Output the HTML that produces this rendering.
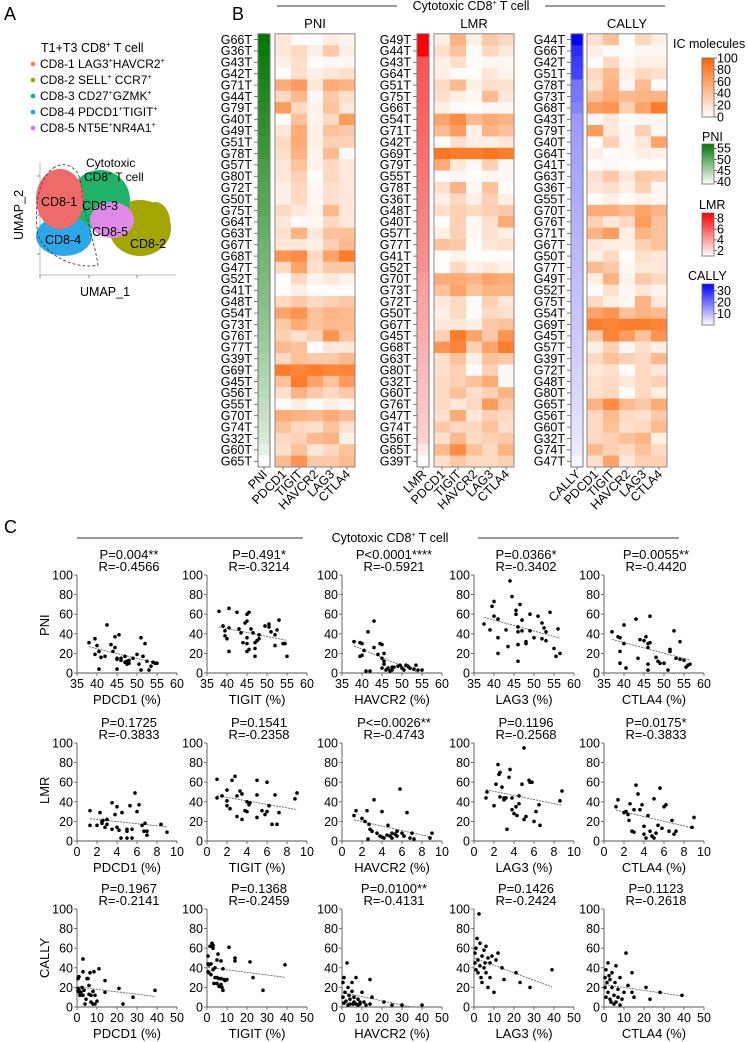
<!DOCTYPE html>
<html><head><meta charset="utf-8">
<style>
html,body{margin:0;padding:0;background:#fff;}
svg{display:block;font-family:"Liberation Sans",Arial,sans-serif;}
</style></head>
<body>
<svg id="fig" width="748" height="1042" viewBox="0 0 748 1042" xmlns="http://www.w3.org/2000/svg">
  <!-- Panel A -->
  <g>
    <text x="4" y="20" font-size="18">A</text>
    <text x="41" y="52" font-size="12.5">T1+T3 CD8<tspan font-size="8" dy="-5">+</tspan><tspan dy="5"> T cell</tspan></text>
    <g font-size="12">
      <circle cx="33" cy="64" r="2.3" fill="#f8766d"/><text x="40" y="68">CD8-1 LAG3<tspan font-size="7" dy="-5">+</tspan><tspan dy="5">HAVCR2</tspan><tspan font-size="7" dy="-5">+</tspan></text>
      <circle cx="33" cy="80" r="2.3" fill="#a3a500"/><text x="40" y="84">CD8-2 SELL<tspan font-size="7" dy="-5">+</tspan><tspan dy="5"> CCR7</tspan><tspan font-size="7" dy="-5">+</tspan></text>
      <circle cx="33" cy="96" r="2.3" fill="#00bf6a"/><text x="40" y="100">CD8-3 CD27<tspan font-size="7" dy="-5">+</tspan><tspan dy="5">GZMK</tspan><tspan font-size="7" dy="-5">+</tspan></text>
      <circle cx="33" cy="112" r="2.3" fill="#00a9f0"/><text x="40" y="116">CD8-4 PDCD1<tspan font-size="7" dy="-5">+</tspan><tspan dy="5">TIGIT</tspan><tspan font-size="7" dy="-5">+</tspan></text>
      <circle cx="33" cy="128" r="2.3" fill="#e76bf3"/><text x="40" y="132">CD8-5 NT5E<tspan font-size="7" dy="-5">+</tspan><tspan dy="5">NR4A1</tspan><tspan font-size="7" dy="-5">+</tspan></text>
    </g>
    <g>
      <line x1="40" y1="162" x2="40" y2="275" stroke="#bbb" stroke-width="1"/>
      <line x1="40" y1="275" x2="176" y2="275" stroke="#bbb" stroke-width="1"/>
      <g stroke="#888"><line x1="37" y1="176" x2="40" y2="176"/><line x1="37" y1="215" x2="40" y2="215"/><line x1="37" y1="254" x2="40" y2="254"/>
      <line x1="40" y1="275" x2="40" y2="278"/><line x1="89" y1="275" x2="89" y2="278"/><line x1="137" y1="275" x2="137" y2="278"/></g>
      <ellipse cx="140" cy="228" rx="31" ry="28" fill="#a3a500"/>
      <ellipse cx="155" cy="222" rx="15" ry="20" fill="#a3a500"/>
      <ellipse cx="100" cy="200" rx="30" ry="30" fill="#1fb36a"/>
      <ellipse cx="112" cy="220" rx="22" ry="18" fill="#e08ae8"/>
      <ellipse cx="64" cy="236" rx="28" ry="20" fill="#2aa8e8"/>
      <ellipse cx="60" cy="199" rx="24" ry="30" fill="#f06a6a"/>
      <path d="M55,167 C40,175 33,205 38,235 C45,255 75,270 98,265 C95,245 90,235 88,220 C80,205 85,180 75,170 C68,163 60,164 55,167 Z" fill="none" stroke="#444" stroke-dasharray="3,2" stroke-width="0.9"/>
      <text x="86" y="167" font-size="12">Cytotoxic</text>
      <text x="84" y="181" font-size="12">CD8<tspan font-size="7" dy="-5">+</tspan><tspan dy="5"> T cell</tspan></text>
      <g font-size="12.5">
      <text x="41" y="206">CD8-1</text><text x="82" y="210">CD8-3</text><text x="45" y="244">CD8-4</text><text x="92" y="236">CD8-5</text><text x="130" y="248">CD8-2</text></g>
      <text x="80" y="296" font-size="12.5">UMAP_1</text>
      <text transform="translate(23,240) rotate(-90)" font-size="12.5">UMAP_2</text>
    </g>
  </g>
  <!-- Panel B header -->
  <text x="232" y="20" font-size="18">B</text>
  <line x1="277" y1="6" x2="397" y2="6" stroke="#333"/>
  <line x1="545" y1="6" x2="665" y2="6" stroke="#333"/>
  <text x="471" y="10" font-size="12.5" text-anchor="middle">Cytotoxic CD8<tspan font-size="7" dy="-5">+</tspan><tspan dy="5"> T cell</tspan></text>
  <text x="315" y="28" font-size="13" text-anchor="middle">PNI</text>
  <text x="474" y="28" font-size="13" text-anchor="middle">LMR</text>
  <text x="627" y="28" font-size="13" text-anchor="middle">CALLY</text>
  <g id="heat"></g>
  <!-- Legends -->
  <g>
    <text x="673" y="48" font-size="12.5">IC molecules</text>
    <text x="702" y="141" font-size="12.5">PNI</text>
    <text x="699" y="209" font-size="12.5">LMR</text>
    <text x="688" y="280" font-size="12.5">CALLY</text>
    <g id="legendbars"></g>
  </g>
  <!-- Panel C -->
  <text x="4" y="533" font-size="18">C</text>
  <line x1="77" y1="538" x2="303" y2="538" stroke="#333"/>
  <line x1="478" y1="538" x2="679" y2="538" stroke="#333"/>
  <text x="390" y="542" font-size="12.5" text-anchor="middle">Cytotoxic CD8<tspan font-size="7" dy="-5">+</tspan><tspan dy="5"> T cell</tspan></text>
  <g id="scat"></g>
</svg>
<script>
// ---------- Heatmap data ----------
const icColumns = ["PDCD1","TIGIT","HAVCR2","LAG3","CTLA4"];
const pniGenes = ["G66T","G36T","G43T","G42T","G71T","G44T","G79T","G40T","G49T","G51T","G78T","G57T","G80T","G72T","G50T","G75T","G64T","G63T","G67T","G68T","G47T","G52T","G41T","G48T","G54T","G73T","G76T","G77T","G39T","G69T","G45T","G56T","G55T","G70T","G74T","G32T","G60T","G65T"];
const pniIndex = [56,55.5,55,54.8,54.2,54,53.5,53.2,53,52.6,52.2,51.5,51.2,50.8,50.5,50.2,49.8,49.5,49,48.8,48.5,48.2,47.8,47.5,47.2,46.8,46.5,46,45.6,45.2,44.8,44.4,44,43.5,43,42.5,41.5,39.5];
const pniIC = [[15,2,2,12,8],[15,25,10,35,10],[10,20,2,5,5],[2,20,10,15,20],[55,65,15,55,50],[25,45,5,35,20],[65,25,8,40,15],[2,40,8,25,65],[15,55,10,40,35],[25,55,10,30,30],[20,50,8,45,2],[15,40,8,25,15],[15,30,2,25,15],[10,25,5,20,15],[10,25,5,20,15],[25,15,8,45,15],[15,2,5,25,15],[20,50,15,40,40],[15,15,10,30,45],[70,75,25,60,85],[25,60,20,35,35],[2,25,8,15,8],[2,10,2,2,2],[25,35,25,30,35],[60,70,40,50,45],[35,55,40,45,45],[30,20,30,70,40],[45,40,2,15,15],[25,40,35,35,45],[85,80,85,80,80],[40,85,60,40,65],[20,50,35,25,35],[2,10,2,10,5],[55,50,45,55,45],[40,25,20,40,20],[25,30,45,50,10],[20,40,15,25,40],[45,70,35,35,45]];
const lmrGenes = ["G49T","G44T","G43T","G64T","G51T","G75T","G66T","G54T","G71T","G42T","G69T","G79T","G55T","G78T","G36T","G48T","G40T","G57T","G77T","G41T","G52T","G70T","G73T","G72T","G50T","G67T","G45T","G68T","G63T","G80T","G32T","G60T","G76T","G47T","G74T","G56T","G65T","G39T"];
const lmrIndex = [8.4,8.3,6.0,5.9,5.8,5.7,5.6,5.5,5.4,5.3,5.2,5.1,5.0,4.9,4.8,4.7,4.6,4.5,4.4,4.3,4.2,3.9,3.8,3.7,3.6,3.5,3.4,3.3,3.2,3.0,2.9,2.8,2.7,2.6,2.5,2.3,1.6,1.0];
const lmrIC = [[10,50,10,35,25],[20,40,2,25,15],[10,20,2,5,5],[10,2,2,15,8],[25,45,10,20,20],[20,10,5,45,15],[10,2,2,5,5],[60,75,45,55,50],[45,65,10,50,40],[2,20,10,10,15],[90,85,85,90,85],[55,15,5,30,5],[2,5,2,5,5],[20,50,5,40,2],[10,25,10,30,10],[20,30,25,30,35],[2,30,5,20,55],[10,30,5,20,10],[40,35,2,15,20],[2,8,2,2,2],[2,25,8,15,8],[55,55,50,60,55],[40,60,40,50,50],[15,25,2,30,15],[10,25,2,25,20],[15,15,10,35,40],[30,85,60,35,70],[70,80,30,60,85],[20,40,10,40,35],[20,30,2,30,5],[25,30,40,55,5],[25,40,20,30,50],[25,15,25,65,35],[20,55,15,30,25],[35,25,25,40,20],[20,45,25,30,35],[45,75,40,25,50],[20,35,25,25,30]];
const callyGenes = ["G44T","G66T","G42T","G51T","G78T","G73T","G68T","G43T","G79T","G40T","G64T","G41T","G63T","G36T","G55T","G70T","G76T","G71T","G67T","G50T","G77T","G49T","G52T","G75T","G54T","G69T","G45T","G57T","G39T","G72T","G48T","G80T","G65T","G56T","G60T","G32T","G74T","G47T"];
const callyIndex = [35,29,27,26,19,18.5,17,14,13.5,13,12.8,12.5,12,11.6,11.2,10.8,10.5,10.2,9.8,9.5,9.2,8.8,8.5,8.2,7.8,7.5,7.2,6.8,6.4,6,5.6,5.2,4.8,4.4,4,3.5,2.8,1.5];
const callyIC = [[20,40,2,25,10],[10,2,2,5,5],[2,25,5,10,10],[25,45,10,25,20],[20,50,5,45,2],[40,55,45,50,50],[65,70,30,60,85],[5,15,2,5,5],[65,15,5,30,5],[2,30,5,15,60],[10,2,5,10,8],[2,5,2,2,2],[20,35,15,35,30],[15,20,10,30,5],[2,10,2,8,5],[55,55,45,60,50],[30,15,25,65,40],[50,65,10,50,40],[15,10,10,30,40],[10,25,2,20,15],[45,35,5,15,15],[10,50,8,35,25],[2,20,5,15,8],[25,10,5,50,15],[60,70,40,50,45],[85,80,85,85,80],[35,80,65,40,70],[10,30,5,20,10],[25,40,30,25,45],[15,20,2,25,15],[20,25,15,25,30],[20,25,2,25,10],[50,75,45,35,55],[25,45,25,20,35],[25,40,20,25,45],[25,30,40,50,10],[45,30,25,40,25],[20,60,15,30,30]];
const icLegendTicks = [100,80,60,40,20,0];
const pniLegendTicks = [55,50,45,40];
const lmrLegendTicks = [8,6,4,2];
const callyLegendTicks = [30,20,10];

// ---------- Scatter data ----------
const rowIndices = ["PNI","LMR","CALLY"];
const xTickSets = [[35,40,45,50,55,60],[0,2,4,6,8,10],[0,10,20,30,40,50]];
const yTicks = [0,20,40,60,80,100];
const pLabels = [["P=0.004**","P=0.491*","P<0.0001****","P=0.0366*","P=0.0055**"],["P=0.1725","P=0.1541","P<=0.0026**","P=0.1196","P=0.0175*"],["P=0.1967","P=0.1368","P=0.0100**","P=0.1426","P=0.1123"]];
const rLabels = [["R=-0.4566","R=-0.3214","R=-0.5921","R=-0.3402","R=-0.4420"],["R=-0.3833","R=-0.2358","R=-0.4743","R=-0.2568","R=-0.3833"],["R=-0.2141","R=-0.2459","R=-0.4131","R=-0.2424","R=-0.2618"]];
const pniPdcd1 = [[38,31],[39.5,19],[40,28],[39.5,35],[40.5,22],[41,16],[40.5,4],[42.5,49],[42,17],[43.5,29],[44,22],[44.5,26],[44.5,37],[45,15],[45.5,39],[45,14],[45,4],[46,15],[46,13],[47,17],[47,11],[47.5,9],[47.5,12],[48,10],[48,13],[49,15],[50,19],[50.5,9],[51,36],[51,3],[51.5,17],[52,30],[52.5,12],[53,3],[53.5,7],[54,11],[54.5,10],[55,10]];
const pniTigit = [[38,63],[39,48],[39.5,43],[39.5,38],[40,35],[40.5,66],[40.5,46],[40.5,22],[42.5,62],[43,45],[43.5,41],[44,31],[44.5,51],[45,53],[45,60],[45.5,62],[45,36],[45,30],[45,22],[45.5,24],[46,45],[46.5,41],[47,17],[47,25],[47,31],[47.5,33],[48,35],[48,39],[49.5,48],[50.5,47],[50.5,50],[51,42],[52,28],[52,39],[52.5,44],[53,54],[54,30],[54.5,30],[55,17]];
const pniHavcr2 = [[38,32],[39.5,17],[40,18],[39.5,31],[40,30],[40.5,23],[41,2],[41.5,42],[42,2],[43,26],[43,53],[44,19],[44.5,30],[45,29],[45.5,20],[45,15],[45.5,12],[46,3],[45,5],[45.5,9],[46.5,5],[47,2],[47.5,6],[47.5,3],[48,6],[49,7],[49.5,8],[50,5],[50.5,3],[51,8],[51.5,7],[52,5],[53,4],[53.5,8],[54,3],[55,3]];
const pniLag3 = [[37.5,50],[39,44],[39.5,68],[40,73],[40,58],[41,55],[41,36],[41,20],[43,44],[43.5,27],[44,94],[44.5,78],[45.5,64],[45.5,60],[46,42],[46,47],[46.5,70],[46,29],[46,12],[47,54],[47,43],[48,30],[48,32],[49,60],[49,43],[50,36],[51,58],[52,51],[52,35],[52.5,46],[53,42],[53,33],[54,62],[55,25],[55.5,17],[56,45],[56.5,20]];
const pniCtla4 = [[37,42],[38.5,37],[39,36],[39,22],[39,10],[40,30],[40,49],[40.5,5],[43,55],[43.5,15],[44,34],[45,33],[45.5,37],[46,30],[46.5,58],[46.5,31],[46,26],[46,9],[46,3],[48,16],[48.5,12],[49,10],[50,10],[51,3],[51.5,22],[51.5,24],[52.5,43],[53,15],[54,32],[54,14],[55,13],[55.5,6],[56,8],[56.5,9]];
const lmrPdcd1 = [[1.3,16],[1.3,31],[2,16],[2.3,29],[2.5,18],[2.5,20],[2.6,21],[2.8,14],[3,22],[3,17],[3.5,39],[3.5,12],[3.8,27],[4,14],[4,35],[4.2,11],[4.4,3],[4.5,29],[5,3],[5,12],[5,10],[5.3,36],[5.5,3],[5.5,12],[5.8,49],[6,30],[6.2,37],[6.5,16],[6.7,10],[6.8,18],[7,6],[7,10],[8.4,17],[9,9]];
const lmrTigit = [[1,63],[1,44],[1.5,46],[2,52],[2,36],[2,41],[2.3,33],[2.5,62],[2.8,66],[3,46],[3,25],[3.3,51],[3.5,48],[3.5,22],[3.8,31],[4,30],[4,40],[4.2,37],[4.3,39],[5,47],[5,24],[5.5,31],[5,62],[5.8,27],[6,60],[6,30],[6.2,36],[6.5,17],[6.8,47],[7,17],[7.2,29],[8.8,43],[9,49]];
const lmrHavcr2 = [[1.2,26],[1.4,31],[2,23],[2.3,20],[2.5,31],[2.6,2],[2.7,17],[2.8,12],[3,10],[3.2,42],[3.5,8],[3.8,5],[4,30],[4,4],[4.2,3],[4.5,6],[4.6,16],[4.8,5],[5,8],[5,3],[5.3,7],[5.5,5],[5.5,10],[5.8,53],[6,8],[6.2,5],[6.5,29],[6.8,3],[7,8],[7.2,2],[8.8,3],[9,8]];
const lmrLag3 = [[1.2,44],[1.3,50],[2,36],[2.2,58],[2.4,78],[2.5,68],[2.6,70],[2.6,45],[2.8,55],[3,44],[3,42],[3.2,44],[3.3,12],[3.5,65],[3.6,73],[3.8,44],[3.8,32],[4,28],[4.2,35],[4.3,26],[4.5,38],[4.5,46],[4.8,58],[5,95],[5,22],[5.2,25],[5.5,62],[5.6,60],[5.8,60],[6,20],[6.2,30],[6.5,37],[6.6,16],[8.6,41],[8.8,51]];
const lmrCtla4 = [[1.2,35],[1.4,42],[2,29],[2.2,30],[2.4,27],[2.5,21],[2.6,38],[2.8,10],[3,9],[3,32],[3.2,57],[3.4,48],[3.6,32],[3.8,37],[4,15],[4,7],[4.2,3],[4.4,26],[4.6,10],[4.8,5],[5,3],[5,43],[5.2,8],[5.4,16],[5.6,54],[5.8,13],[6,35],[6.2,37],[6.5,10],[6.8,21],[7,7],[7.2,10],[8.8,14],[9,24]];
const callyPdcd1 = [[0.5,19],[0.5,29],[1,31],[0.5,16],[1,17],[1.5,14],[2,15],[1.5,12],[2.5,20],[3,49],[3,36],[3,12],[3.5,17],[4,3],[4.5,8],[5,29],[5.5,29],[6,22],[6,13],[6.5,35],[7,5],[7,12],[8,3],[8,16],[8.5,36],[9,3],[9,12],[10,6],[11,39],[14,27],[14,15],[21,19],[23,3],[28,10],[39,17]];
const callyTigit = [[0.5,52],[0.5,44],[0.5,36],[1,35],[1,43],[1.5,62],[2,33],[2,44],[2.5,65],[3,63],[3,60],[3,38],[3.5,24],[4,30],[4,40],[5,48],[5,30],[5,24],[5.5,54],[6,29],[6,21],[7,29],[7,23],[7,47],[7.5,20],[8,39],[8,17],[8.5,28],[9,27],[10,28],[11,61],[14,50],[14,47],[21.5,46],[23,30],[28,17],[39,43]];
const callyHavcr2 = [[0.5,25],[0.5,10],[1,30],[1,4],[1.5,15],[2,6],[2.5,45],[3,20],[3,2],[3.5,12],[4,8],[4,3],[5,25],[5,16],[5.5,3],[6,10],[6,5],[7,30],[7,3],[8,2],[8,8],[9,5],[9,3],[10,15],[11,5],[12,2],[14,28],[14,3],[15,10],[21,5],[25,2],[30,2],[40,2]];
const callyLag3 = [[0.5,45],[0.5,55],[1,60],[1,38],[1.5,70],[2,48],[2,35],[2.5,95],[3,65],[3,42],[3.5,30],[4,52],[4,25],[5,40],[5,58],[5.5,45],[6,62],[6,35],[7,50],[7,20],[8,45],[8,30],[9,52],[10,15],[11,48],[12,55],[14,40],[15,28],[21,35],[23,25],[28,20],[39,38]];
const callyCtla4 = [[0.5,30],[0.5,20],[1,38],[1,10],[1.5,25],[2,45],[2,15],[2.5,32],[3,8],[3,28],[3.5,5],[4,35],[4,20],[5,12],[5,3],[5.5,25],[6,42],[6,5],[7,18],[7,10],[8,30],[8,2],[9,8],[10,15],[11,55],[12,22],[14,35],[14,15],[15,10],[21,20],[23,8],[28,15],[39,12]];

const NS = "http://www.w3.org/2000/svg";
function mk(tag, attrs, parent){ const e=document.createElementNS(NS,tag); for(const k in attrs) e.setAttribute(k,attrs[k]); parent.appendChild(e); return e; }
function icColor(v){ const t=Math.max(0,Math.min(1,v/100)); return `rgb(${Math.round(255-2*t)},${Math.round(255-153*t)},${Math.round(255-250*t)})`; }
function ramp(t,rgb){ t=Math.max(0,Math.min(1,t)); return `rgb(${Math.round(255+(rgb[0]-255)*t)},${Math.round(255+(rgb[1]-255)*t)},${Math.round(255+(rgb[2]-255)*t)})`; }
const GREEN=[0,120,0], RED=[255,0,0], BLUE=[0,0,255];

// ---------- Heatmaps ----------
const heat = document.getElementById('heat');
const TOP=33.8, ROWH=11.4, COLW=16, BARW=12;
const panels = [
  {name:"pni", genes:pniGenes, idx:pniIndex, ic:pniIC, barX:258, heatX:275, col:GREEN, lo:40, hi:56, label:"PNI"},
  {name:"lmr", genes:lmrGenes, idx:lmrIndex, ic:lmrIC, barX:417, heatX:434, col:RED, lo:1, hi:8.4, label:"LMR"},
  {name:"cally", genes:callyGenes, idx:callyIndex, ic:callyIC, barX:571, heatX:587, col:BLUE, lo:0, hi:35, label:"CALLY"}
];
function yRow(i){ return TOP + i*ROWH; }
panels.forEach(p=>{
  const g = mk('g',{},heat);
  
  
  p.genes.forEach((gn,i)=>{
    const t = mk('text',{x:p.barX-6, y:yRow(i)+ROWH/2+4.3, 'font-size':12.5, 'text-anchor':'end'}, g);
    t.textContent = gn;
    
    
    mk('line',{x1:p.barX-4,y1:yRow(i)+ROWH/2,x2:p.barX,y2:yRow(i)+ROWH/2,stroke:'#555','stroke-width':0.8},g);
    const b = mk('rect',{x:p.barX, y:yRow(i), width:BARW, height:ROWH+0.3, fill:ramp((p.idx[i]-p.lo)/(p.hi-p.lo),p.col)}, g);
    
    
    p.ic[i].forEach((v,j)=>{
      const c = mk('rect',{x:p.heatX+j*COLW, y:yRow(i), width:COLW+0.3, height:ROWH+0.3, fill:icColor(v)}, g);
      
      
    });
  });
  const H = p.genes.length*ROWH;
  mk('rect',{x:p.barX, y:TOP, width:BARW, height:H, fill:'none', stroke:'#777','stroke-width':1},g);
  mk('rect',{x:p.heatX, y:TOP, width:COLW*5, height:H, fill:'none', stroke:'#888','stroke-width':1},g);
  const colLabels = [p.label].concat(icColumns);
  colLabels.forEach((lab,j)=>{
    const cx = j===0 ? p.barX+BARW/2 : p.heatX+(j-1)*COLW+COLW/2;
    mk('line',{x1:cx,y1:TOP+H,x2:cx,y2:TOP+H+3,stroke:'#555','stroke-width':0.8},g);
    const t = mk('text',{x:cx+4, y:TOP+H+8, 'font-size':12.5, 'text-anchor':'end', transform:`rotate(-45 ${cx+4} ${TOP+H+8})`}, g);
    t.textContent = lab;
    
    
  });
});

// ---------- Legend bars ----------
const lb = document.getElementById('legendbars');
function legendBar(name, x, y0, y1, stops, ticks, lo, hi){
  const g = mk('g',{},lb);
  
  
  const gid = 'grad-'+name;
  const defs = mk('defs',{},g);
  const lg = mk('linearGradient',{id:gid,x1:0,y1:1,x2:0,y2:0},defs);
  mk('stop',{offset:'0',  'stop-color':stops[0]},lg);
  mk('stop',{offset:'1',  'stop-color':stops[1]},lg);
  mk('rect',{x:x,y:y0,width:12,height:y1-y0,fill:`url(#${gid})`,stroke:'#666','stroke-width':0.8},g);
  ticks.forEach(v=>{
    const yy = y1 - (v-lo)/(hi-lo)*(y1-y0);
    mk('line',{x1:x+12,y1:yy,x2:x+15,y2:yy,stroke:'#555','stroke-width':0.8},g);
    const t = mk('text',{x:x+15,y:yy+4.3,'font-size':12.5},g);
    t.textContent = v;
  });
}
legendBar('ic-legend', 702, 58, 117, ['#ffffff','#fe6605'], icLegendTicks, 0, 100);
legendBar('pni-legend', 702, 144, 184, ['#ffffff','#007800'], pniLegendTicks, 39, 57);
legendBar('lmr-legend', 702, 213, 256, ['#ffffff','#ff0000'], lmrLegendTicks, 1, 9);
legendBar('cally-legend', 702, 284, 325, ['#ffffff','#0000ff'], callyLegendTicks, 0, 36);

// ---------- Scatter plots ----------
const scat = document.getElementById('scat');
const colAxisX = [77, 207, 342, 474, 604];
const rowTopY = [575, 743, 909];
const PW=100, PH=98;
const xDomains = [[35,60],[0,10],[0,50]];
const seriesGrid = [[pniPdcd1,pniTigit,pniHavcr2,pniLag3,pniCtla4],[lmrPdcd1,lmrTigit,lmrHavcr2,lmrLag3,lmrCtla4],[callyPdcd1,callyTigit,callyHavcr2,callyLag3,callyCtla4]];
rowIndices.forEach((idxName,r)=>{
  const top = rowTopY[r], base = top+PH;
  const yl = mk('text',{transform:`translate(49,${top+PH/2+ (r===2?20:12)}) rotate(-90)`,'font-size':13},scat);
  yl.textContent = idxName;
  
  
  icColumns.forEach((gene,c)=>{
    const ax = colAxisX[c];
    const dom = xDomains[r];
    const X = v => ax + (v-dom[0])/(dom[1]-dom[0])*PW;
    const Y = v => base - v/100*PH;
    const g = mk('g',{},scat);
    
    
    mk('line',{x1:ax,y1:top,x2:ax,y2:base,stroke:'#555','stroke-width':0.9},g);
    mk('line',{x1:ax,y1:base,x2:ax+PW,y2:base,stroke:'#555','stroke-width':0.9},g);
    yTicks.forEach(v=>{
      mk('line',{x1:ax-3,y1:Y(v),x2:ax,y2:Y(v),stroke:'#555','stroke-width':0.8},g);
      const t = mk('text',{x:ax-4,y:Y(v)+4.5,'font-size':12.5,'text-anchor':'end'},g);
      t.textContent = v;
    });
    xTickSets[r].forEach(v=>{
      mk('line',{x1:X(v),y1:base,x2:X(v),y2:base+3,stroke:'#555','stroke-width':0.8},g);
      const t = mk('text',{x:X(v),y:base+15,'font-size':12.5,'text-anchor':'middle'},g);
      t.textContent = v;
    });
    const xt = mk('text',{x:ax+PW/2,y:base+31,'font-size':13,'text-anchor':'middle'},g);
    xt.textContent = gene+' (%)';
    
    
    const pts = seriesGrid[r][c];
    // regression
    const n=pts.length; let sx=0,sy=0,sxx=0,sxy=0, mnx=Infinity,mxx=-Infinity;
    pts.forEach(([x,y])=>{sx+=x;sy+=y;sxx+=x*x;sxy+=x*y;mnx=Math.min(mnx,x);mxx=Math.max(mxx,x);});
    const slope=(n*sxy-sx*sy)/(n*sxx-sx*sx), inter=(sy-slope*sx)/n;
    let x2=mxx; if(inter+slope*x2<0){ x2=-inter/slope; }
    const rl = mk('line',{x1:X(mnx),y1:Y(inter+slope*mnx),x2:X(x2),y2:Y(inter+slope*x2),stroke:'#666','stroke-width':0.9,'stroke-dasharray':'2,1'},g);
    
    
    pts.forEach(([x,y])=>{
      const d = mk('circle',{cx:X(x),cy:Y(y),r:1.8,fill:'#000'},g);
      
      
    });
    const tx = ax + 52;
    const pt = mk('text',{x:tx,y:top-16,'font-size':13,'text-anchor':'middle'},g);
    pt.textContent = pLabels[r][c];
    
    
    const rt = mk('text',{x:tx,y:top-4,'font-size':13,'text-anchor':'middle'},g);
    rt.textContent = rLabels[r][c];
    
    
  });
});
</script>
</body></html>
